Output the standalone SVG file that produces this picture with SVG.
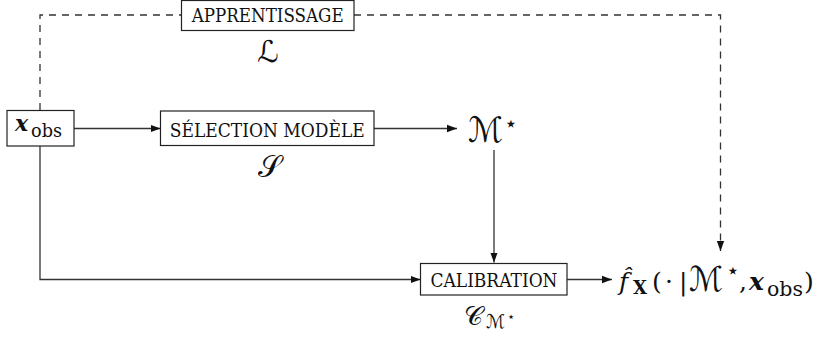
<svg xmlns="http://www.w3.org/2000/svg" width="816" height="342" viewBox="0 0 816 342">
<style>
.box{fill:#fff;stroke:#222;stroke-width:1.2}
.ln{fill:none;stroke:#333;stroke-width:1.3}
.dash{fill:none;stroke:#333;stroke-width:1.3;stroke-dasharray:7 6}
.t{font-family:"DejaVu Serif","Liberation Serif",serif;font-size:19px;fill:#111}
.sc{font-family:"DejaVu Sans",serif;fill:#111}
.m{font-family:"DejaVu Serif","Liberation Serif",serif;fill:#111}
.bi{font-weight:bold;font-style:italic}
</style>
<defs>
<marker id="ah" markerUnits="userSpaceOnUse" markerWidth="11" markerHeight="9" refX="10" refY="4.5" orient="auto">
<path d="M0,0.8 L10,4.5 L0,8.2 Z" fill="#111"/>
</marker>
</defs>
<g id="connectors">
<path class="dash" d="M40,110 V15 H181.5"/>
<path class="dash" d="M354,15 H720.5 V251" marker-end="url(#ah)"/>
<path class="ln" d="M74,128.5 H160.5" marker-end="url(#ah)"/>
<path class="ln" d="M374,128.5 H457" marker-end="url(#ah)"/>
<path class="ln" d="M494,150 V262.5" marker-end="url(#ah)"/>
<path class="ln" d="M40,146 V279.5 H420.5" marker-end="url(#ah)"/>
<path class="ln" d="M567,279.5 H612" marker-end="url(#ah)"/>
</g>
<g id="apprentissage">
<rect class="box" x="181.5" y="0.5" width="172.5" height="30"/>
<text class="t" x="267.7" y="22" text-anchor="middle" textLength="152" lengthAdjust="spacingAndGlyphs">APPRENTISSAGE</text>
<text class="sc" x="268" y="62" font-size="30" text-anchor="middle">ℒ</text>
</g>
<g id="xobs">
<rect class="box" x="7" y="110.5" width="67" height="35.5"/>
<text class="m" x="15" y="131"><tspan class="bi" font-size="22">x</tspan><tspan x="31" y="136.5" font-size="18" textLength="31" lengthAdjust="spacingAndGlyphs">obs</tspan></text>
</g>
<g id="selection">
<rect class="box" x="160.5" y="111" width="213.5" height="34.5"/>
<text class="t" x="267.3" y="137" text-anchor="middle" textLength="195" lengthAdjust="spacingAndGlyphs">SÉLECTION MODÈLE</text>
<text class="sc" x="269" y="177" font-size="30" text-anchor="middle">𝒮</text>
</g>
<g id="mstar">
<text class="sc" x="468" y="142" font-size="35" textLength="35" lengthAdjust="spacingAndGlyphs">ℳ</text>
<text class="sc" x="504" y="131" font-size="22">⋆</text>
</g>
<g id="calibration">
<rect class="box" x="420.5" y="263.5" width="146.5" height="31.5"/>
<text class="t" x="494" y="287" text-anchor="middle" textLength="127" lengthAdjust="spacingAndGlyphs">CALIBRATION</text>
<text class="sc" x="464" y="325" font-size="26">𝒞</text>
<text class="sc" x="486" y="328" font-size="19" textLength="19" lengthAdjust="spacingAndGlyphs">ℳ</text>
<text class="sc" x="507" y="320.5" font-size="13">⋆</text>
</g>
<g id="output">
<text class="m" x="619" y="290" font-size="25"><tspan font-style="italic">f̂</tspan><tspan x="633" y="294" font-size="18" font-weight="bold">X</tspan><tspan x="652" y="290">(</tspan><tspan x="665">·</tspan><tspan x="679">|</tspan><tspan x="739">,</tspan><tspan class="bi" x="749">x</tspan><tspan x="767" y="296" font-size="20" textLength="36" lengthAdjust="spacingAndGlyphs">obs</tspan><tspan x="804" y="290">)</tspan></text>
<text class="sc" x="689" y="291" font-size="34" textLength="34" lengthAdjust="spacingAndGlyphs">ℳ</text>
<text class="sc" x="726" y="278" font-size="22">⋆</text>
</g>
</svg>
